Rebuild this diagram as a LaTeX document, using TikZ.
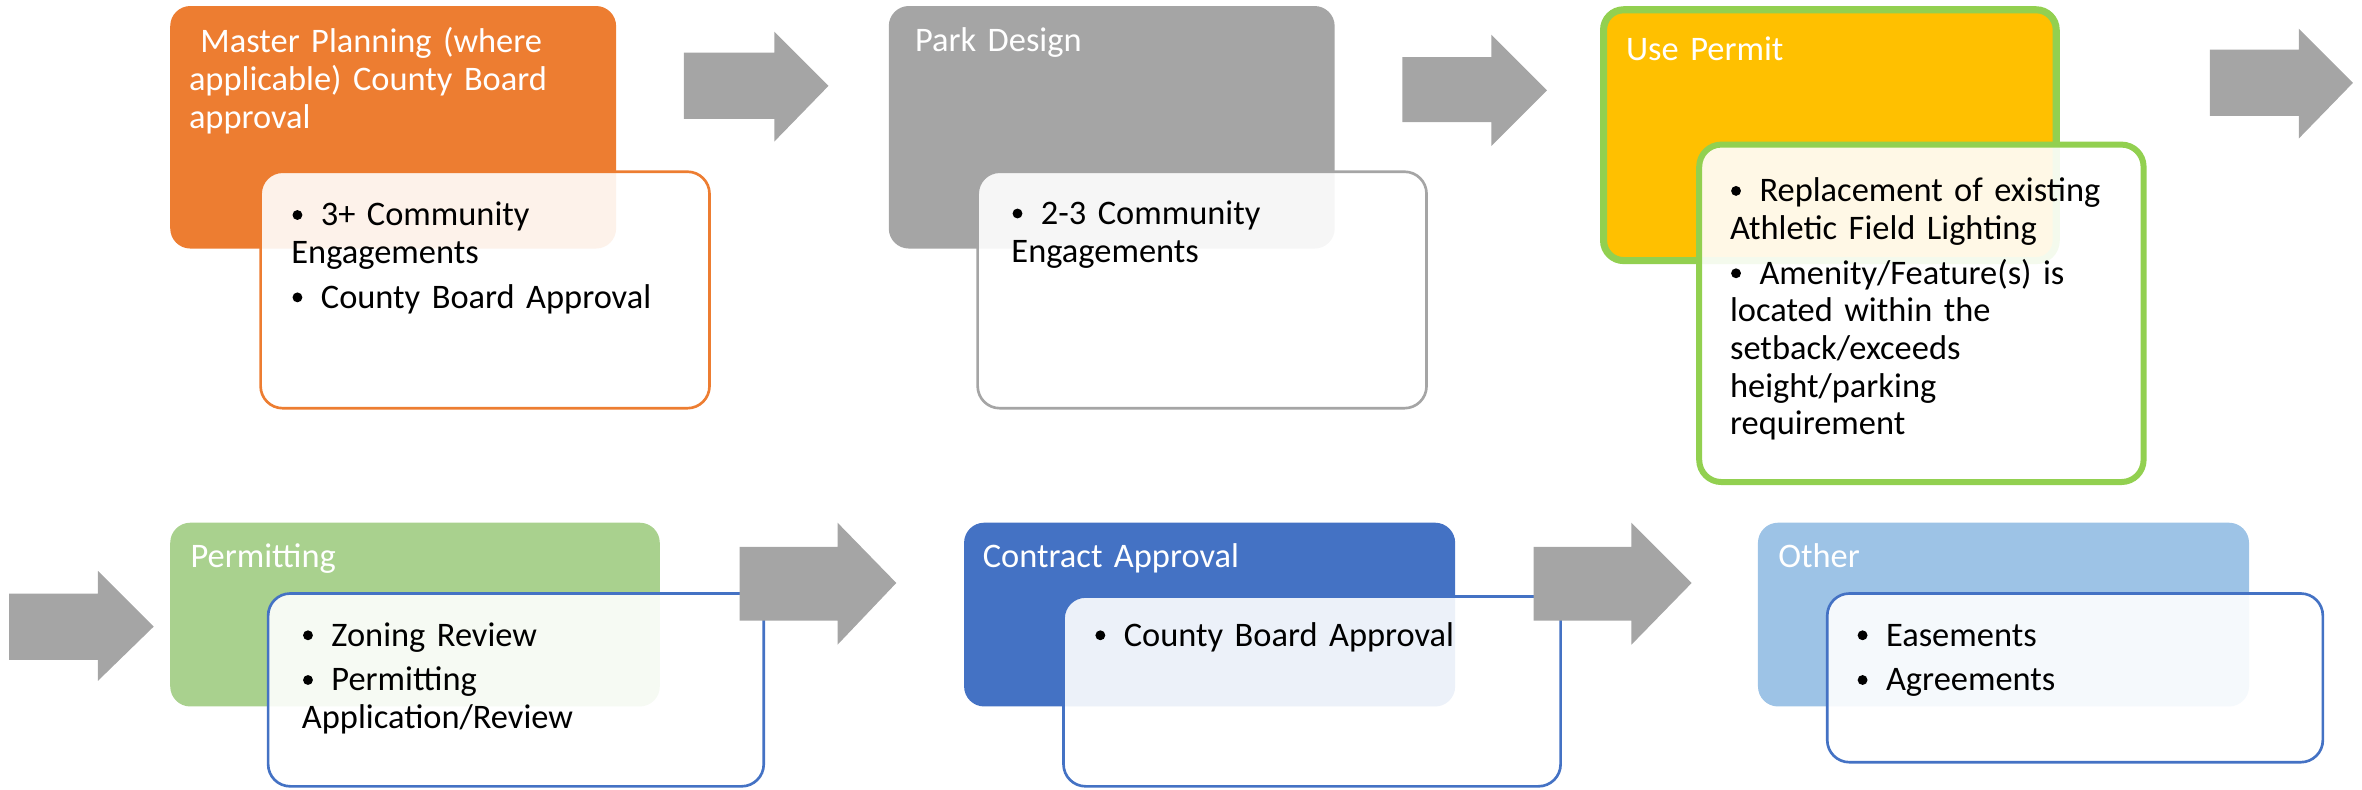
\documentclass[tikz,border=0pt]{standalone}
\usepackage{fontspec}
\setmainfont{Carlito}
\definecolor{cOrange}{HTML}{ED7D31}
\definecolor{cGray}{HTML}{A5A5A5}
\definecolor{cGold}{HTML}{FFC000}
\definecolor{cLime}{HTML}{92D050}
\definecolor{cGreen}{HTML}{A9D18E}
\definecolor{cBlue}{HTML}{4472C4}
\definecolor{cSky}{HTML}{9DC3E6}
\newcommand\bdot{\raisebox{1.7pt}{\tikz\fill[black] (0,0) circle (1.4pt);}}
\newcommand\bitm[1]{\hangindent=5.1pt\hangafter=1\noindent\makebox[5.1pt][l]{\hspace{0.3pt}\bdot}\ #1\par}
\newcommand\fs{\fontsize{9.75pt}{10.67pt}\selectfont\setlength{\parskip}{2pt}}
\newcommand\barrow[9]{\fill[arw] (#1,#4) -- (#2,#4) -- (#2,#6) -- (#3,#8) -- (#2,#7) -- (#2,#5) -- (#1,#5) -- cycle; \coordinate (#9) at (#3,#8);}
\begin{document}
\begin{tikzpicture}[x=0.015cm,y=-0.015cm,
  hdr/.style={rounded corners=0.2cm},
  det/.style={rounded corners=0.22cm, fill=white, fill opacity=0.9, line width=0.75pt},
  ttl/.style={anchor=base west, inner sep=0pt, text=white, font=\fs, text width=4.6cm, align=left},
  lst/.style={anchor=base west, inner sep=0pt, font=\fs, text width=4.6cm, align=left},
  arw/.style={fill=cGray, draw=none}]
\useasboundingbox (0,0) rectangle (1568,524);
% top row
\fill[hdr, cOrange] (113,4) rectangle (409,165);
\draw[det, draw=cOrange] (173,114) rectangle (471,271);
\node[ttl] (t1) at (125,35) {\ Master Planning (where\\applicable) County Board\\approval};
\node[lst] (l1) at (193,150) {\bitm{3+ Community\\Engagements}\bitm{County Board Approval}};

\fill[hdr, cGray] (590,4) rectangle (886,165);
\draw[det, draw=cGray] (649,114) rectangle (947,271);
\node[ttl] (t2) at (607,34) {Park Design};
\node[lst] (l2) at (671,149) {\bitm{2-3 Community\\Engagements}};

\filldraw[hdr, fill=cGold, draw=cLime, line width=2pt] (1064.5,6.5) rectangle (1365,173);
\draw[det, draw=cLime, line width=1.7pt] (1128,96) rectangle (1423,320);
\node[ttl] (t3) at (1079,40) {Use Permit};
\node[lst] (l3) at (1148,134) {\bitm{Replacement of existing\\Athletic Field Lighting}\bitm{Amenity/Feature(s) is\\located within the\\setback/exceeds\\height/parking\\requirement}};

% bottom row
\fill[hdr, cGreen] (113,347) rectangle (438,469);
\draw[det, draw=cBlue] (178,394) rectangle (507,522);
\node[ttl] (t4) at (126,377) {Permitting};
\node[lst] (l4) at (200,429) {\bitm{Zoning Review}\bitm{Permitting\\Application/Review}};

\fill[hdr, cBlue] (640,347) rectangle (966,469);
\draw[det, draw=cBlue] (706,396) rectangle (1036,522);
\node[ttl] (t5) at (652,377) {Contract Approval};
\node[lst] (l5) at (726,429) {\bitm{County Board Approval}};

\fill[hdr, cSky] (1167,347) rectangle (1493,469);
\draw[det, draw=cBlue] (1213,394) rectangle (1542,506);
\node[ttl] (t6) at (1180,377) {Other};
\node[lst] (l6) at (1232,429) {\bitm{Easements}\bitm{Agreements}};

% arrows
\barrow{454}{514}{550}{35}{79}{21}{94}{57}{a1}
\barrow{931}{990}{1027}{38}{81}{23}{97}{60}{a2}
\barrow{1467}{1526}{1562}{33}{77}{19}{92}{55}{a3}
\barrow{6}{65}{102}{394}{438}{379}{452}{416}{a4}
\barrow{491}{556}{595}{363}{412}{347}{428}{387}{a5}
\barrow{1018}{1083}{1123}{363}{412}{347}{428}{387}{a6}
\end{tikzpicture}
\end{document}
